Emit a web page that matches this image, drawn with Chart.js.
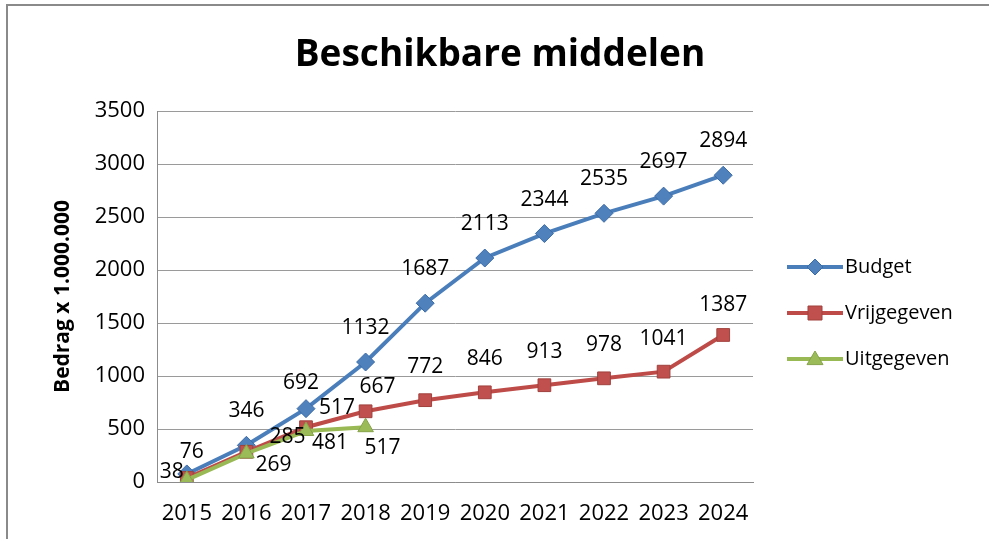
<!DOCTYPE html>
<html>
<head>
<meta charset="utf-8">
<script src="https://cdn.jsdelivr.net/npm/chart.js@4/dist/chart.umd.min.js"></script>
<style>
html,body{margin:0;padding:0;background:#fff;}
#wrap{width:989px;height:539px;position:relative;}
</style>
</head>
<body>
<div id="wrap"><canvas id="c" width="989" height="539"></canvas></div>
<script>
const categories = ['2015','2016','2017','2018','2019','2020','2021','2022','2023','2024'];
const budget = [76, 346, 692, 1132, 1687, 2113, 2344, 2535, 2697, 2894];
const vrijgegeven = [38, 285, 517, 667, 772, 846, 913, 978, 1041, 1387];
const uitgegeven = [20, 269, 481, 517];
const yTicks = [0, 500, 1000, 1500, 2000, 2500, 3000, 3500];
const seriesNames = ['Budget', 'Vrijgegeven', 'Uitgegeven'];
const titleText = 'Beschikbare middelen';
const yTitle = 'Bedrag x 1.000.000';

// label placement (styling, not data): [dx, dy] relative to point, null = no label
const labelOffsets = [
  [[5,-22],[0,-34],[-5,-26],[0,-34],[0,-34],[0,-34],[0,-34],[0,-34],[0,-34],[0,-34]],
  [[-15,-6],[41,-15],[31,-19],[12,-24],[0,-33],[0,-33],[0,-33],[0,-33],[0,-33],[0,-30]],
  [null,[27,12],[24,12],[17,21]]
];

const FONT = "'Open Sans', sans-serif";

const frame = {
  id: 'frame',
  beforeDraw(chart) {
    const ctx = chart.ctx;
    ctx.save();
    ctx.fillStyle = '#fff';
    ctx.fillRect(0, 0, chart.width, chart.height);
    ctx.strokeStyle = '#8a8a8a';
    ctx.lineWidth = 2;
    ctx.beginPath();
    ctx.moveTo(7, 545);
    ctx.lineTo(7, 5);
    ctx.lineTo(995, 5);
    ctx.stroke();
    // title
    ctx.fillStyle = '#000';
    ctx.font = "bold 37px " + FONT;
    ctx.textAlign = 'center';
    ctx.textBaseline = 'middle';
    ctx.fillText(titleText, 500, 55);
    ctx.restore();
  }
};

const pointLabels = {
  id: 'pointLabels',
  afterDatasetsDraw(chart) {
    const ctx = chart.ctx;
    ctx.save();
    ctx.font = "21px " + FONT;
    ctx.fillStyle = '#000';
    ctx.textAlign = 'center';
    ctx.textBaseline = 'middle';
    chart.data.datasets.forEach((ds, i) => {
      const meta = chart.getDatasetMeta(i);
      meta.data.forEach((pt, j) => {
        const off = labelOffsets[i][j];
        if (!off) return;
        ctx.fillText(String(ds.data[j]), pt.x + off[0], pt.y + off[1]);
      });
    });
    ctx.restore();
  }
};

const customLegend = {
  id: 'customLegend',
  afterDraw(chart) {
    const ctx = chart.ctx;
    ctx.save();
    const x0 = 787, x1 = 843, ys = [267, 313, 359];
    chart.data.datasets.forEach((ds, i) => {
      const y = ys[i];
      ctx.strokeStyle = ds.borderColor;
      ctx.lineWidth = ds.borderWidth;
      ctx.beginPath();
      ctx.moveTo(x0, y);
      ctx.lineTo(x1, y);
      ctx.stroke();
      const cx = (x0 + x1) / 2;
      ctx.fillStyle = ds.pointBackgroundColor;
      ctx.strokeStyle = ds.pointBorderColor;
      ctx.lineWidth = 1;
      ctx.beginPath();
      const r = 8;
      if (ds.pointStyle === 'rectRot') {
        ctx.moveTo(cx, y - r); ctx.lineTo(cx + r, y); ctx.lineTo(cx, y + r); ctx.lineTo(cx - r, y); ctx.closePath();
      } else if (ds.pointStyle === 'rect') {
        ctx.rect(cx - r + 1, y - r + 1, 2 * r - 2, 2 * r - 2);
      } else {
        ctx.moveTo(cx, y - r); ctx.lineTo(cx + r, y + r * 0.7); ctx.lineTo(cx - r, y + r * 0.7); ctx.closePath();
      }
      ctx.fill();
      ctx.stroke();
      ctx.fillStyle = '#000';
      ctx.font = "20px " + FONT;
      ctx.textAlign = 'left';
      ctx.textBaseline = 'middle';
      ctx.fillText(ds.label, x1 + 2, y);
    });
    ctx.restore();
  }
};

new Chart(document.getElementById('c'), {
  type: 'line',
  data: {
    labels: categories,
    datasets: [
      {
        label: seriesNames[0], data: budget,
        borderColor: '#4A7EBB', borderWidth: 4,
        pointStyle: 'rectRot', pointRadius: 9,
        pointBackgroundColor: '#4F81BD', pointBorderColor: '#3C6CA8', pointBorderWidth: 1,
        tension: 0, order: 3
      },
      {
        label: seriesNames[1], data: vrijgegeven,
        borderColor: '#BE4B48', borderWidth: 4,
        pointStyle: 'rect', pointRadius: 9,
        pointBackgroundColor: '#C0504D', pointBorderColor: '#A0403D', pointBorderWidth: 1,
        tension: 0, order: 2
      },
      {
        label: seriesNames[2], data: uitgegeven,
        borderColor: '#98B954', borderWidth: 4,
        pointStyle: 'triangle', pointRadius: 9,
        pointBackgroundColor: '#9BBB59', pointBorderColor: '#86A34A', pointBorderWidth: 1,
        tension: 0, order: 1
      }
    ]
  },
  options: {
    responsive: false,
    animation: false,
    layout: { padding: { left: 45, right: 236, top: 111, bottom: 0 } },
    plugins: {
      legend: { display: false },
      title: { display: false },
      tooltip: { enabled: false }
    },
    scales: {
      x: {
        offset: true,
        grid: { display: false, drawTicks: false },
        border: { display: true, color: '#8c8c8c', width: 1 },
        ticks: { color: '#000', font: { family: FONT, size: 22 }, padding: 19, maxRotation: 0, autoSkip: false },
        afterFit(s) { s.height = 57; }
      },
      y: {
        min: 0, max: 3500,
        afterBuildTicks(s) { s.ticks = yTicks.map(v => ({ value: v })); },
        grid: { color: '#9a9a9a', lineWidth: 1, drawTicks: false },
        border: { display: true, color: '#8c8c8c', width: 1 },
        ticks: { color: '#000', font: { family: FONT, size: 22 }, padding: 12, callback: v => String(v) },
        title: { display: true, text: yTitle, color: '#000', font: { family: FONT, size: 21, weight: 'bold' }, padding: { top: 5, bottom: 0 } },
        afterFit(s) { s.width = 112; }
      }
    }
  },
  plugins: [frame, pointLabels, customLegend]
});
</script>
</body>
</html>
